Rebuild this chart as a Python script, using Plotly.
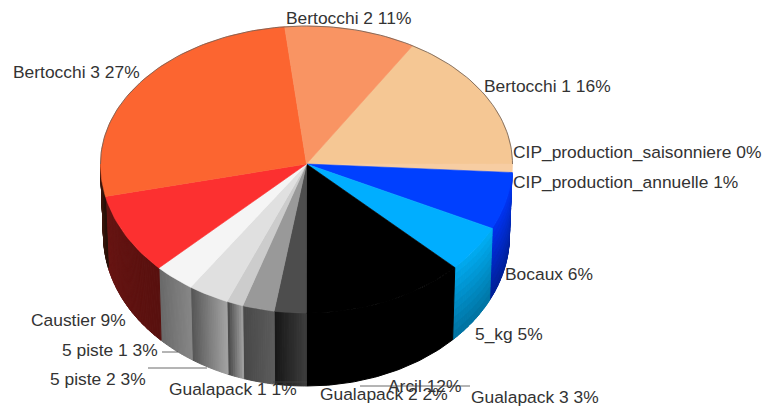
import math
import numpy as np
import plotly.graph_objects as go

# ---- data (clockwise, starting at Bertocchi 1) ----
names = ["Bertocchi 1", "CIP_production_saisonniere", "CIP_production_annuelle", "Bocaux", "5_kg",
         "Arcil", "Gualapack 3", "Gualapack 2", "Gualapack 1", "5 piste 2", "5 piste 1",
         "Caustier", "Bertocchi 3", "Bertocchi 2"]
shares = [16.4, 0.0, 0.9, 6.2, 5.1, 12.8, 2.5, 2.5, 1.3, 3.2, 3.2, 8.8, 26.8, 10.3]
shown_pct = [16, 0, 1, 6, 5, 12, 3, 2, 1, 3, 3, 9, 27, 11]
top_colors = ["#F5C794", "#F5C794", "#F7CDA2", "#0040FF", "#00AEFF", "#000000", "#4D4D4D", "#999999",
              "#CCCCCC", "#E0E0E0", "#F5F5F5", "#FC3030", "#FC6530", "#F99463"]
# wall shading: (colour at the left edge, colour at the right edge, vertical darkening)
wall_styles = {
    "Bocaux": ((0, 50, 240), (0, 55, 245), 0.38),
    "5_kg": ((0, 170, 240), (0, 175, 245), 0.34),
    "Arcil": ((0, 0, 0), (0, 0, 0), 0),
    "Gualapack 3": ((22, 22, 22), (62, 62, 62), 0),
    "Gualapack 2": ((72, 72, 72), (92, 92, 92), 0),
    "Gualapack 1": ((70, 70, 70), (165, 165, 165), 0),
    "5 piste 2": ((85, 85, 85), (165, 165, 165), 0),
    "5 piste 1": ((105, 105, 105), (135, 135, 135), 0),
    "Caustier": ((105, 22, 20), (88, 16, 14), 0),
    "Bertocchi 3": ((60, 22, 12), (40, 18, 10), 0),
}

START_DEG = 31.0
CX, CY, RX, RY_UP, RY_LOW = 306.5, 164.0, 206.0, 138.0, 149.0
BX, BY, BRX, BRY = 306.5, 235.0, 203.0, 151.0


def top_pt(a):
    r = math.radians(a)
    s, c = math.sin(r), math.cos(r)
    return CX + RX * s, CY - c * (RY_UP if c > 0 else RY_LOW)


def bot_pt(a):
    r = math.radians(a)
    return BX + BRX * math.sin(r), BY - BRY * math.cos(r)


def wall_pt(a, v):
    x0, y0 = top_pt(a)
    x1, y1 = bot_pt(a)
    return x0 + (x1 - x0) * v, y0 + (y1 - y0) * v


edges = START_DEG + np.concatenate([[0], np.cumsum(shares)]) * 3.6
fig = go.Figure()


def poly(xs, ys, color, lw=0.6):
    fig.add_trace(go.Scatter(x=xs, y=ys, mode="lines", fill="toself", fillcolor=color,
                             line=dict(color=color, width=lw), hoverinfo="skip", showlegend=False))


# side walls (only the part facing the viewer)
for name, a0, a1 in zip(names, edges[:-1], edges[1:]):
    if name not in wall_styles:
        continue
    a_start, a_end = max(a0, 90.0), min(a1, 270.0)
    if a_end <= a_start:
        continue
    left, right, dark = wall_styles[name]
    n_h = 1 if left == right else max(2, int((a_end - a_start) / 0.6))
    n_v = 10 if dark else 1
    for i in range(n_h):
        b0 = a_start + (a_end - a_start) * i / n_h
        b1 = a_start + (a_end - a_start) * (i + 1) / n_h
        t = (i + 0.5) / n_h
        base = [right[k] + (left[k] - right[k]) * t for k in range(3)]
        for j in range(n_v):
            v0, v1 = j / n_v, (j + 1) / n_v
            f = 1 - dark * (j + 0.5) / n_v
            col = "rgb(%d,%d,%d)" % tuple(int(c * f) for c in base)
            steps = np.linspace(b0, b1, max(2, int(b1 - b0) + 2))
            up = [wall_pt(float(b), v0) for b in steps]
            lo = [wall_pt(float(b), v1) for b in steps[::-1]]
            p = up + lo
            poly([q[0] for q in p] + [p[0][0]], [q[1] for q in p] + [p[0][1]], col, 1.0)

# top face
for name, col, a0, a1 in zip(names, top_colors, edges[:-1], edges[1:]):
    if a1 - a0 <= 0:
        continue
    aa = np.linspace(a0, a1, max(3, int((a1 - a0) / 1.5) + 2))
    pts = [top_pt(float(a)) for a in aa]
    poly([CX] + [p[0] for p in pts] + [CX], [CY] + [p[1] for p in pts] + [CY], col)

# thin outline along the back rim
rim = [top_pt(a) for a in np.linspace(-90, 90, 121)]
fig.add_trace(go.Scatter(x=[p[0] for p in rim], y=[p[1] for p in rim], mode="lines",
                         line=dict(color="#6b5a50", width=0.8), hoverinfo="skip", showlegend=False))

# leader lines
leaders = [((162, 352), (178, 352)), ((148, 368), (207, 368)), ((273, 382), (307, 382)), ((360, 386), (470, 386))]
for (x0, y0), (x1, y1) in leaders:
    fig.add_trace(go.Scatter(x=[x0, x1], y=[y0, y1], mode="lines", line=dict(color="#444444", width=0.8),
                             hoverinfo="skip", showlegend=False))

label_pos = {
    "Bertocchi 1": (484, 86), "CIP_production_saisonniere": (513, 152), "CIP_production_annuelle": (513, 182),
    "Bocaux": (505, 274), "5_kg": (475, 334), "Arcil": (388, 386), "Gualapack 3": (471, 397),
    "Gualapack 2": (320, 394), "Gualapack 1": (169, 389), "5 piste 2": (50, 379), "5 piste 1": (62, 350),
    "Caustier": (31, 320), "Bertocchi 3": (13, 72), "Bertocchi 2": (286, 18),
}
annotations = []
for name, pct in zip(names, shown_pct):
    x, y = label_pos[name]
    annotations.append(dict(x=x, y=y, xref="x", yref="y", text=f"{name} {pct}%", showarrow=False,
                            xanchor="left", yanchor="middle", xshift=-2,
                            font=dict(family="Liberation Sans, Arial, sans-serif", size=17.4, color="#333333")))

fig.update_layout(
    width=766, height=411, margin=dict(l=0, r=0, t=0, b=0), paper_bgcolor="white", plot_bgcolor="white",
    showlegend=False, annotations=annotations,
    xaxis=dict(range=[0, 766], visible=False, fixedrange=True),
    yaxis=dict(range=[411, 0], visible=False, fixedrange=True),
)
fig.write_html("out.html", config={"displayModeBar": False},
               post_script="document.body.style.margin='0';document.documentElement.style.overflow='hidden';")
